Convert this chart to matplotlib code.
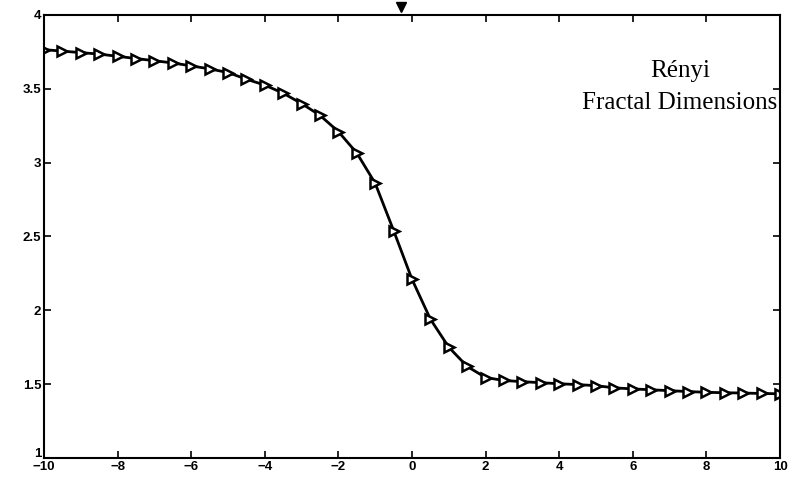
import numpy as np
import matplotlib
matplotlib.use("Agg")
import matplotlib.pyplot as plt
import matplotlib.transforms as mtransforms

# generalised dimension D_q sampled every 0.5 in q
q = np.arange(-10, 10.5, 0.5)
dq = [3.765, 3.755, 3.745, 3.735, 3.72, 3.705, 3.69, 3.675, 3.655, 3.635,
      3.61, 3.565, 3.525, 3.47, 3.40, 3.32, 3.21, 3.065, 2.86, 2.54,
      2.21, 1.94, 1.75, 1.62, 1.545, 1.525, 1.517, 1.51, 1.503, 1.497,
      1.49, 1.475, 1.468, 1.462, 1.456, 1.45, 1.445, 1.442, 1.44, 1.437,
      1.435]

xticks = [-10, -8, -6, -4, -2, 0, 2, 4, 6, 8, 10]
yticks = [1, 1.5, 2, 2.5, 3, 3.5, 4]
ylabels = ['1', '1.5', '2', '2.5', '3', '3.5', '4']

fig = plt.figure(figsize=(7.97, 4.79), dpi=100)
ax = fig.add_axes([0.0552, 0.0438, 0.9235, 0.925])

ax.plot(q, dq, color='black', linewidth=2.0, marker='>', markersize=7,
        markerfacecolor='white', markeredgecolor='black', markeredgewidth=1.8)

# small pointer above the frame
ax.plot([-0.3], [4.055], marker='v', color='black', markersize=7, clip_on=False)

ax.set_xlim(-10, 10)
ax.set_ylim(1, 4)
ax.set_xticks(xticks)
ax.set_xticklabels([str(t).replace('-', '\u2212') for t in xticks])
ax.set_yticks(yticks)
ax.set_yticklabels(ylabels)
ax.tick_params(direction='in', length=5, width=1.2, top=True, right=True,
               labelsize=9.5, pad=2)
for lab in ax.get_xticklabels() + ax.get_yticklabels():
    lab.set_fontweight('bold')
    lab.set_family('Liberation Sans')

# lift the bottom y label a little so it clears the corner x label
ylab0 = ax.get_yticklabels()[0]
ylab0.set_transform(ylab0.get_transform() +
                    mtransforms.ScaledTranslation(0, 4 / 72, fig.dpi_scale_trans))

for s in ax.spines.values():
    s.set_linewidth(1.5)

ax.text(7.28, 3.51, 'Rényi\nFractal Dimensions', ha='center', va='center',
        fontsize=18, family='Liberation Serif', linespacing=1.6)

fig.savefig('out.png', dpi=100)
